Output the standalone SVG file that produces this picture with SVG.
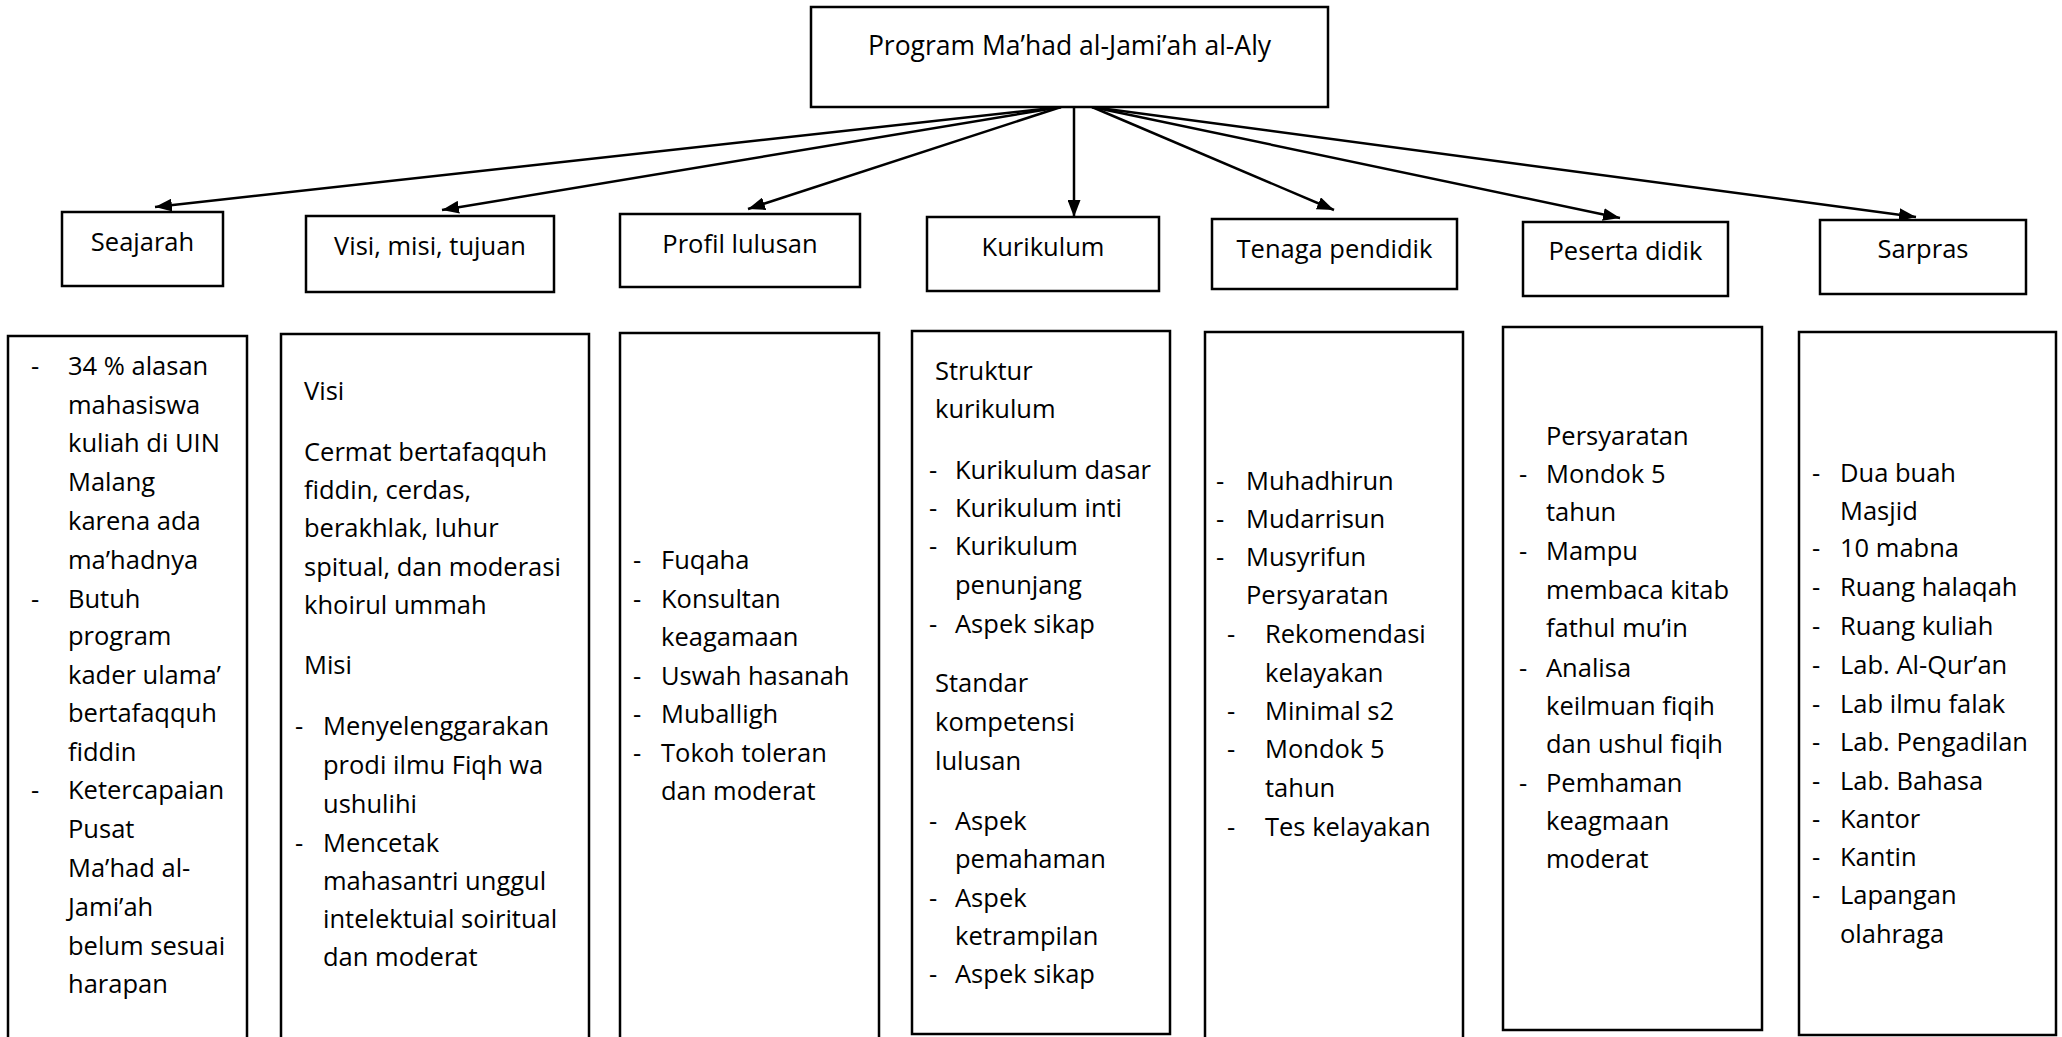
<svg xmlns="http://www.w3.org/2000/svg" width="2062" height="1037" viewBox="0 0 2062 1037">
<style>
.bx{fill:#fff;stroke:#000;stroke-width:2.5}
.t{font-family:"Open Sans","Noto Sans","Liberation Sans",sans-serif;font-size:25.5px;fill:#000}
.c{text-anchor:middle}
.ttl{font-size:26.5px}
.ln{stroke:#000;stroke-width:2.5;fill:none;marker-end:url(#ah)}
</style>
<defs>
<marker id="ah" viewBox="0 0 17 13" refX="17" refY="6.5" markerWidth="17" markerHeight="13" markerUnits="userSpaceOnUse" orient="auto">
<path d="M0,0 L17,6.5 L0,13 z" fill="#000"/>
</marker>
</defs>
<rect width="2062" height="1037" fill="#fff"/>

<g id="connectors">
<line class="ln" x1="1061" y1="107" x2="155" y2="207"/>
<line class="ln" x1="1061" y1="107" x2="442" y2="210"/>
<line class="ln" x1="1061" y1="107" x2="748" y2="209"/>
<line class="ln" x1="1074" y1="107" x2="1074" y2="217"/>
<line class="ln" x1="1092" y1="107" x2="1334" y2="210"/>
<line class="ln" x1="1092" y1="107" x2="1620" y2="218"/>
<line class="ln" x1="1092" y1="107" x2="1916" y2="217"/>
</g>

<g id="program">
<rect class="bx" x="811" y="7" width="517" height="100"/>
<text class="t c ttl" x="1069.5" y="55">Program Ma’had al-Jami’ah al-Aly</text>
</g>

<g id="seajarah">
<rect class="bx" x="62" y="212" width="161" height="74"/>
<text class="t c" x="142.5" y="251">Seajarah</text>
</g>
<g id="visi">
<rect class="bx" x="306" y="216" width="248" height="76"/>
<text class="t c" x="430" y="255">Visi, misi, tujuan</text>
</g>
<g id="profil">
<rect class="bx" x="620" y="214" width="240" height="73"/>
<text class="t c" x="740" y="253">Profil lulusan</text>
</g>
<g id="kurikulum">
<rect class="bx" x="927" y="217" width="232" height="74"/>
<text class="t c" x="1043" y="256">Kurikulum</text>
</g>
<g id="tenaga">
<rect class="bx" x="1212" y="219" width="245" height="70"/>
<text class="t c" x="1334.5" y="258">Tenaga pendidik</text>
</g>
<g id="peserta">
<rect class="bx" x="1523" y="222" width="205" height="74"/>
<text class="t c" x="1625.5" y="260">Peserta didik</text>
</g>
<g id="sarpras">
<rect class="bx" x="1820" y="220" width="206" height="74"/>
<text class="t c" x="1923" y="258">Sarpras</text>
</g>

<g id="seajarah-detail">
<rect class="bx" x="8" y="336" width="239" height="720"/>
<text class="t" x="31" y="375">-</text>
<text class="t" x="68" y="375">34 % alasan</text>
<text class="t" x="68" y="413.5">mahasiswa</text>
<text class="t" x="68" y="452">kuliah di UIN</text>
<text class="t" x="68" y="491">Malang</text>
<text class="t" x="68" y="530">karena ada</text>
<text class="t" x="68" y="569">ma’hadnya</text>
<text class="t" x="31" y="607.5">-</text>
<text class="t" x="68" y="607.5">Butuh</text>
<text class="t" x="68" y="645">program</text>
<text class="t" x="68" y="684">kader ulama’</text>
<text class="t" x="68" y="722">bertafaqquh</text>
<text class="t" x="68" y="760.5">fiddin</text>
<text class="t" x="31" y="799">-</text>
<text class="t" x="68" y="799">Ketercapaian</text>
<text class="t" x="68" y="838">Pusat</text>
<text class="t" x="68" y="877">Ma’had al-</text>
<text class="t" x="68" y="916">Jami’ah</text>
<text class="t" x="68" y="954.5">belum sesuai</text>
<text class="t" x="68" y="993">harapan</text>
</g>

<g id="visi-detail">
<rect class="bx" x="281" y="334" width="308" height="720"/>
<text class="t" x="304" y="400">Visi</text>
<text class="t" x="304" y="461">Cermat bertafaqquh</text>
<text class="t" x="304" y="498.5">fiddin, cerdas,</text>
<text class="t" x="304" y="537">berakhlak, luhur</text>
<text class="t" x="304" y="576">spitual, dan moderasi</text>
<text class="t" x="304" y="614">khoirul ummah</text>
<text class="t" x="304" y="674">Misi</text>
<text class="t" x="295" y="735">-</text>
<text class="t" x="323" y="735">Menyelenggarakan</text>
<text class="t" x="323" y="774">prodi ilmu Fiqh wa</text>
<text class="t" x="323" y="813">ushulihi</text>
<text class="t" x="295" y="852">-</text>
<text class="t" x="323" y="852">Mencetak</text>
<text class="t" x="323" y="890">mahasantri unggul</text>
<text class="t" x="323" y="928">intelektuial soiritual</text>
<text class="t" x="323" y="966">dan moderat</text>
</g>

<g id="profil-detail">
<rect class="bx" x="620" y="333" width="259" height="720"/>
<text class="t" x="633" y="569">-</text>
<text class="t" x="661" y="569">Fuqaha</text>
<text class="t" x="633" y="607.5">-</text>
<text class="t" x="661" y="607.5">Konsultan</text>
<text class="t" x="661" y="646">keagamaan</text>
<text class="t" x="633" y="684.5">-</text>
<text class="t" x="661" y="684.5">Uswah hasanah</text>
<text class="t" x="633" y="723">-</text>
<text class="t" x="661" y="723">Muballigh</text>
<text class="t" x="633" y="761.5">-</text>
<text class="t" x="661" y="761.5">Tokoh toleran</text>
<text class="t" x="661" y="800">dan moderat</text>
</g>

<g id="kurikulum-detail">
<rect class="bx" x="912" y="331" width="258" height="703"/>
<text class="t" x="935" y="380">Struktur</text>
<text class="t" x="935" y="418">kurikulum</text>
<text class="t" x="929" y="479">-</text>
<text class="t" x="955" y="479">Kurikulum dasar</text>
<text class="t" x="929" y="516.5">-</text>
<text class="t" x="955" y="516.5">Kurikulum inti</text>
<text class="t" x="929" y="555">-</text>
<text class="t" x="955" y="555">Kurikulum</text>
<text class="t" x="955" y="594">penunjang</text>
<text class="t" x="929" y="633">-</text>
<text class="t" x="955" y="633">Aspek sikap</text>
<text class="t" x="935" y="692">Standar</text>
<text class="t" x="935" y="731">kompetensi</text>
<text class="t" x="935" y="770">lulusan</text>
<text class="t" x="929" y="830">-</text>
<text class="t" x="955" y="830">Aspek</text>
<text class="t" x="955" y="868">pemahaman</text>
<text class="t" x="929" y="907">-</text>
<text class="t" x="955" y="907">Aspek</text>
<text class="t" x="955" y="945">ketrampilan</text>
<text class="t" x="929" y="983">-</text>
<text class="t" x="955" y="983">Aspek sikap</text>
</g>

<g id="tenaga-detail">
<rect class="bx" x="1205" y="332" width="258" height="720"/>
<text class="t" x="1216" y="490">-</text>
<text class="t" x="1246" y="490">Muhadhirun</text>
<text class="t" x="1216" y="528">-</text>
<text class="t" x="1246" y="528">Mudarrisun</text>
<text class="t" x="1216" y="566">-</text>
<text class="t" x="1246" y="566">Musyrifun</text>
<text class="t" x="1246" y="604">Persyaratan</text>
<text class="t" x="1227" y="643">-</text>
<text class="t" x="1265" y="643">Rekomendasi</text>
<text class="t" x="1265" y="681.5">kelayakan</text>
<text class="t" x="1227" y="719.5">-</text>
<text class="t" x="1265" y="719.5">Minimal s2</text>
<text class="t" x="1227" y="758">-</text>
<text class="t" x="1265" y="758">Mondok 5</text>
<text class="t" x="1265" y="797">tahun</text>
<text class="t" x="1227" y="836">-</text>
<text class="t" x="1265" y="836">Tes kelayakan</text>
</g>

<g id="peserta-detail">
<rect class="bx" x="1503" y="327" width="259" height="703"/>
<text class="t" x="1546" y="444.5">Persyaratan</text>
<text class="t" x="1519" y="483">-</text>
<text class="t" x="1546" y="483">Mondok 5</text>
<text class="t" x="1546" y="521">tahun</text>
<text class="t" x="1519" y="559.5">-</text>
<text class="t" x="1546" y="559.5">Mampu</text>
<text class="t" x="1546" y="599">membaca kitab</text>
<text class="t" x="1546" y="637">fathul mu’in</text>
<text class="t" x="1519" y="677">-</text>
<text class="t" x="1546" y="677">Analisa</text>
<text class="t" x="1546" y="715">keilmuan fiqih</text>
<text class="t" x="1546" y="753">dan ushul fiqih</text>
<text class="t" x="1519" y="791.5">-</text>
<text class="t" x="1546" y="791.5">Pemhaman</text>
<text class="t" x="1546" y="830">keagmaan</text>
<text class="t" x="1546" y="868">moderat</text>
</g>

<g id="sarpras-detail">
<rect class="bx" x="1799" y="332" width="257" height="703"/>
<text class="t" x="1812" y="482">-</text>
<text class="t" x="1840" y="482">Dua buah</text>
<text class="t" x="1840" y="520">Masjid</text>
<text class="t" x="1812" y="557">-</text>
<text class="t" x="1840" y="557">10 mabna</text>
<text class="t" x="1812" y="596">-</text>
<text class="t" x="1840" y="596">Ruang halaqah</text>
<text class="t" x="1812" y="635">-</text>
<text class="t" x="1840" y="635">Ruang kuliah</text>
<text class="t" x="1812" y="674">-</text>
<text class="t" x="1840" y="674">Lab. Al-Qur’an</text>
<text class="t" x="1812" y="712.5">-</text>
<text class="t" x="1840" y="712.5">Lab ilmu falak</text>
<text class="t" x="1812" y="751">-</text>
<text class="t" x="1840" y="751">Lab. Pengadilan</text>
<text class="t" x="1812" y="790">-</text>
<text class="t" x="1840" y="790">Lab. Bahasa</text>
<text class="t" x="1812" y="827.5">-</text>
<text class="t" x="1840" y="827.5">Kantor</text>
<text class="t" x="1812" y="865.5">-</text>
<text class="t" x="1840" y="865.5">Kantin</text>
<text class="t" x="1812" y="904">-</text>
<text class="t" x="1840" y="904">Lapangan</text>
<text class="t" x="1840" y="943">olahraga</text>
</g>
</svg>
